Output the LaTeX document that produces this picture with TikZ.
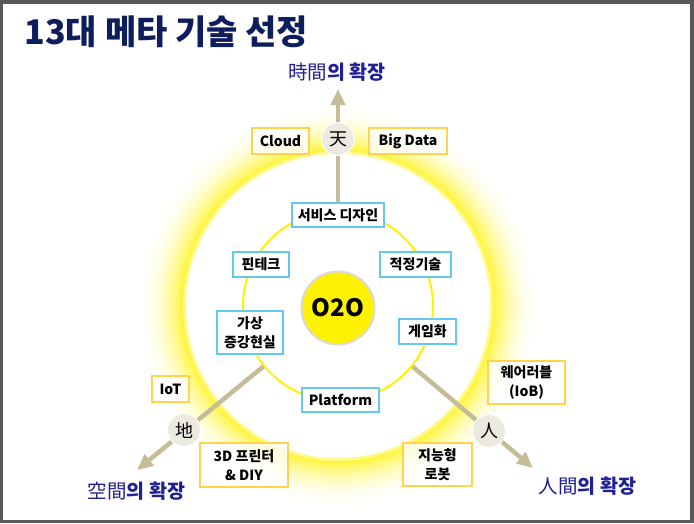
\documentclass[tikz,border=0pt]{standalone}
\usepackage{fontspec}
\setmainfont{Noto Sans CJK KR}
\usetikzlibrary{arrows.meta}

\definecolor{titlenavy}{RGB}{14,30,92}
\definecolor{dirblue}{RGB}{32,32,150}
\definecolor{axistan}{RGB}{196,189,151}
\definecolor{skyline}{RGB}{100,200,240}
\definecolor{goldline}{RGB}{255,210,80}
\definecolor{hanfill}{RGB}{236,234,224}
\definecolor{framegrey}{RGB}{88,88,88}

\begin{document}
\begin{tikzpicture}[x=1pt,y=-1pt,
  bluebox/.style={draw=skyline,line width=1.8pt,fill=white,inner sep=0pt,align=center,
    font=\bfseries\fontsize{14}{19}\selectfont},
  goldbox/.style={draw=goldline,line width=1.5pt,fill=white,fill opacity=0.8,text opacity=1,
    inner sep=0pt,align=center,font=\bfseries\fontsize{14}{19}\selectfont},
  hanja/.style={circle,fill=hanfill,draw=white,line width=1pt,minimum size=33pt,inner sep=0pt,
    font=\fontsize{18}{18}\selectfont},
  axis/.style={draw=axistan,line width=4.5pt,-{Triangle[width=14pt,length=16pt]}},
  dirlabel/.style={text=dirblue,font=\fontsize{19.5}{21}\selectfont}]
\useasboundingbox (0,0) rectangle (694,523);
\fill[framegrey] (0,0) rectangle (694,523);
\fill[white] (3,4) rectangle (690,520);
\node[anchor=west,text=titlenavy,font=\bfseries\fontsize{34}{34}\selectfont] (title) at (21,32) {13대 메타 기술 선정};
\coordinate (c) at (338,306);
\foreach \i in {0,...,25}{
  \pgfmathsetmacro\pct{82*(\i/25)^2.3}
  \fill[yellow!\pct!white] (c) circle ({205-2*\i});
}
\fill[yellow!45!white] (c) circle (155);
\fill[white] (c) circle (152);
\coordinate (rUp) at (338,211);
\coordinate (rLeft) at (264,366);
\coordinate (rRight) at (412,366);
\coordinate (tipUp) at (338,89);
\coordinate (tipLeft) at (137,470);
\coordinate (tipRight) at (533,468);
\draw[axis] (rUp) -- (tipUp);
\draw[axis] (rLeft) -- (tipLeft);
\draw[axis] (rRight) -- (tipRight);
\draw[yellow,line width=2pt] (c) circle (95);
\node[circle,fill=yellow,draw=gray!30,line width=2pt,minimum size=73pt,
  font=\bfseries\fontsize{24}{24}\selectfont] (o2o) at (338,308) {O2O};
\node[bluebox,minimum width=92pt,minimum height=24pt] (service) at (338,215) {서비스 디자인};
\node[bluebox,minimum width=56pt,minimum height=25pt] (fintech) at (261,264.5) {핀테크};
\node[bluebox,minimum width=71pt,minimum height=25pt] (approp) at (415.5,264.5) {적정기술};
\node[bluebox,minimum width=66pt,minimum height=43pt] (arvr) at (250,332.5) {가상\\증강현실};
\node[bluebox,minimum width=57pt,minimum height=25pt] (game) at (427.5,331.5) {게임화};
\node[bluebox,minimum width=77pt,minimum height=24pt] (platform) at (340.5,400) {Platform};
\node[goldbox,minimum width=57pt,minimum height=26pt] (cloud) at (280.5,141) {Cloud};
\node[goldbox,minimum width=78pt,minimum height=26pt] (bigdata) at (408,141) {Big Data};
\node[goldbox,minimum width=37pt,minimum height=26pt] (iot) at (170.5,389) {IoT};
\node[goldbox,minimum width=88pt,minimum height=44pt] (printer) at (244,465) {3D 프린터\\\& DIY};
\node[goldbox,minimum width=77pt,minimum height=43pt] (wear) at (526.5,382.5) {웨어러블\\(IoB)};
\node[goldbox,minimum width=69pt,minimum height=43pt] (robot) at (437.5,464.5) {지능형\\로봇};
\node[hanja] (cheon) at (338,139) {天};
\node[hanja] (ji) at (184,430) {地};
\node[hanja] (in) at (489,431) {人};
\node[dirlabel] (time) at (337,72) {時間\textbf{의 확장}};
\node[dirlabel] (space) at (136.5,491) {空間\textbf{의 확장}};
\node[dirlabel] (human) at (587.5,486) {人間\textbf{의 확장}};
\end{tikzpicture}
\end{document}
